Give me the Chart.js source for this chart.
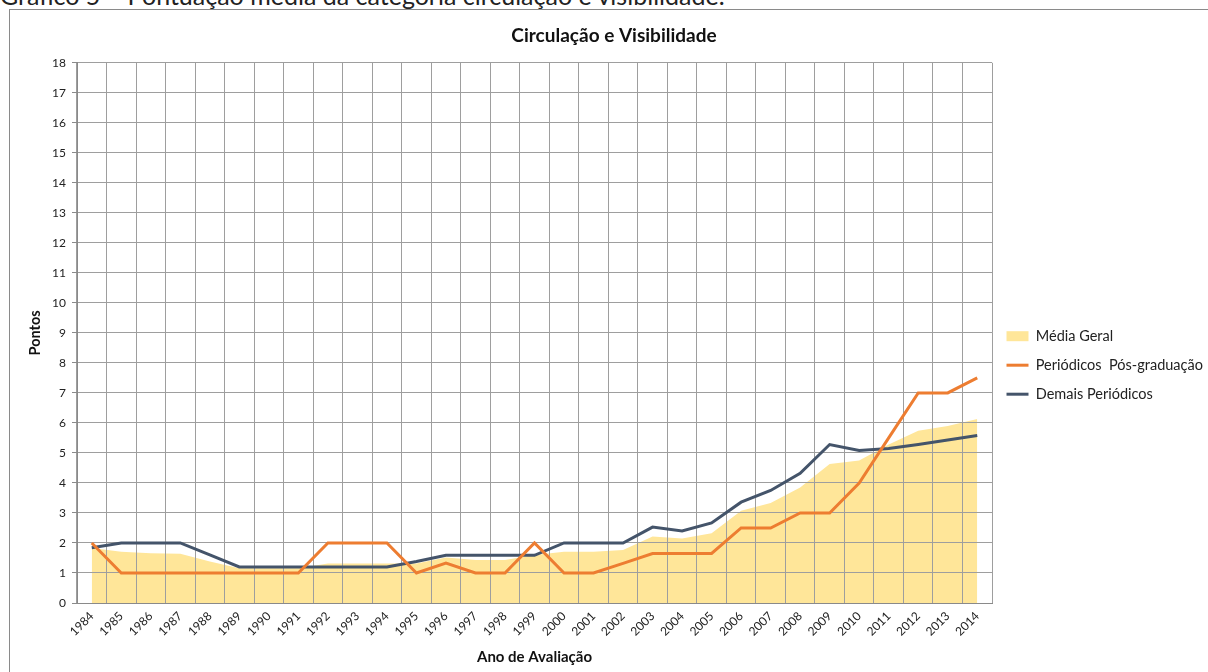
<!DOCTYPE html>
<html>
<head>
<meta charset="utf-8">
<script src="https://cdn.jsdelivr.net/npm/chart.js@4.4.1/dist/chart.umd.min.js"></script>
<style>
  html, body { margin: 0; padding: 0; background: #fff; overflow: hidden; }
  body { width: 1208px; height: 672px; position: relative; font-family: Lato, sans-serif; }
  #caption { position: absolute; left: 0; top: -20px; font-size: 25px; color: #222; white-space: nowrap; }
  #frame { position: absolute; left: 9px; top: 9px; width: 1230px; height: 700px; border: 1px solid #8a8a8a; }
  #wrap { position: absolute; left: 0; top: 0; width: 1208px; height: 672px; }
</style>
</head>
<body>
<div id="caption">Gráfico 5 – Pontuação média da categoria circulação e visibilidade.</div>
<div id="frame"></div>
<div id="wrap"><canvas id="chart"></canvas></div>
<script>
// Anos de avaliação
const anos = ['1984','1985','1986','1987','1988','1989','1990','1991','1992','1993','1994',
  '1995','1996','1997','1998','1999','2000','2001','2002','2003','2004','2005','2006',
  '2007','2008','2009','2010','2011','2012','2013','2014'];

// Média geral (área)
const mediaGeral = [1.83, 1.71, 1.66, 1.64, 1.38, 1.16, 1.16, 1.16, 1.32, 1.32, 1.32,
  1.32, 1.52, 1.43, 1.43, 1.6, 1.71, 1.71, 1.77, 2.22, 2.15, 2.32, 3.07,
  3.33, 3.85, 4.63, 4.75, 5.28, 5.74, 5.9, 6.13];

// Periódicos pós-graduação
const posGraduacao = [2, 1, 1, 1, 1, 1, 1, 1, 2, 2, 2,
  1, 1.33, 1, 1, 2, 1, 1, 1.32, 1.65, 1.65, 1.65, 2.5,
  2.5, 3, 3, 4, 5.5, 7, 7, 7.5];

// Demais periódicos
const demais = [1.84, 2, 2, 2, 1.6, 1.2, 1.2, 1.2, 1.2, 1.2, 1.2,
  1.38, 1.59, 1.59, 1.59, 1.59, 2, 2, 2, 2.53, 2.4, 2.67, 3.36,
  3.75, 4.32, 5.28, 5.08, 5.15, 5.28, 5.43, 5.58];

const fonte = 'Lato, sans-serif';

// largura fixa da legenda para manter a área do gráfico
const legendaLargura = {
  id: 'legendaLargura',
  beforeInit(chart) {
    const lg = chart.legend;
    const fit = lg.fit.bind(lg);
    lg.fit = () => { fit(); lg.width = 216; };
  }
};

new Chart(document.getElementById('chart'), {
  type: 'line',
  data: {
    labels: anos,
    datasets: [
      {
        label: 'Média Geral',
        data: mediaGeral,
        fill: 'origin',
        backgroundColor: '#FFE699',
        borderColor: '#FFE699',
        borderWidth: 0,
        pointRadius: 0,
        pointStyle: 'rect',
        tension: 0
      },
      {
        label: 'Periódicos  Pós-graduação',
        data: posGraduacao,
        borderColor: '#ED7D31',
        backgroundColor: '#ED7D31',
        borderWidth: 3,
        pointRadius: 0,
        pointStyle: 'line',
        tension: 0
      },
      {
        label: 'Demais Periódicos',
        data: demais,
        borderColor: '#44546A',
        backgroundColor: '#44546A',
        borderWidth: 3,
        pointRadius: 0,
        pointStyle: 'line',
        tension: 0
      }
    ]
  },
  options: {
    responsive: true,
    maintainAspectRatio: false,
    animation: false,
    layout: { padding: { left: 20, right: 0, top: 0, bottom: 0 } },
    plugins: {
      filler: { drawTime: 'beforeDraw' },
      tooltip: { enabled: false },
      title: {
        display: true,
        text: 'Circulação e Visibilidade',
        color: '#111',
        font: { family: fonte, size: 19, weight: 'bold' },
        padding: { top: 24, bottom: 16 }
      },
      legend: {
        position: 'right',
        title: { display: true, text: ' ', font: { size: 12 }, padding: 22 },
        labels: {
          usePointStyle: true,
          pointStyleWidth: 22,
          boxHeight: 10,
          padding: 14.5,
          color: '#222',
          font: { family: fonte, size: 14.5 }
        }
      }
    },
    scales: {
      x: {
        offset: true,
        grid: { offset: true, color: '#9e9e9e', drawTicks: false },
        border: { color: '#8a8a8a' },
        ticks: {
          autoSkip: false,
          minRotation: 45,
          maxRotation: 45,
          padding: 6,
          color: '#222',
          font: { family: fonte, size: 12 }
        },
        title: {
          display: true,
          text: 'Ano de Avaliação',
          color: '#111',
          font: { family: fonte, size: 15, weight: 'bold' },
          padding: { top: 0, bottom: 6 }
        },
        afterFit(scale) { scale.height = 69; }
      },
      y: {
        min: 0,
        max: 18,
        grid: { color: '#9e9e9e', tickLength: 5, tickColor: '#8a8a8a' },
        border: { color: '#8a8a8a' },
        ticks: {
          stepSize: 1,
          padding: 6,
          color: '#222',
          font: { family: fonte, size: 12 }
        },
        title: {
          display: true,
          text: 'Pontos',
          color: '#111',
          font: { family: fonte, size: 14.5, weight: 'bold' },
          padding: { top: 7, bottom: 0 }
        },
        afterFit(scale) { scale.width = 57; }
      }
    }
  },
  plugins: [legendaLargura]
});
</script>
</body>
</html>
